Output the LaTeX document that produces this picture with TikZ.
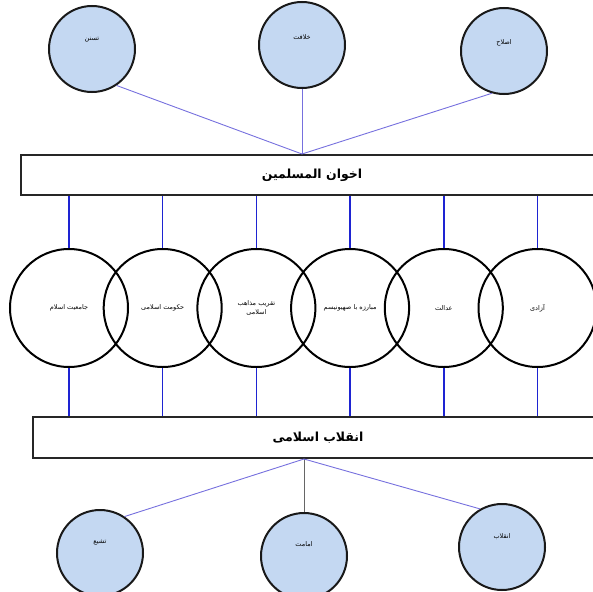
\documentclass[tikz,border=0pt]{standalone}
\usepackage{fontspec}
\usepackage{xcolor}
\usepackage{tikz}
\usetikzlibrary{positioning,calc}
\TeXXeTstate=1
\newfontfamily\arabicfont[Script=Arabic]{DejaVu Sans}
\newcommand{\fa}[1]{\beginR #1\endR}
\definecolor{Sky}{RGB}{196,216,242}
\definecolor{Wire}{RGB}{118,112,222}
\definecolor{Tie}{RGB}{30,36,210}
\tikzset{
  bar/.style={draw=black!85,line width=2pt,fill=white,inner sep=0pt,font=\arabicfont\bfseries\fontsize{12.5}{14}\selectfont},
  topic/.style={circle,draw=black,line width=2pt,minimum size=118pt,inner sep=0pt,align=center,font=\arabicfont\fontsize{6.5}{9}\selectfont},
  branch/.style={circle,draw=black!90,line width=2pt,fill=Sky,minimum size=86pt,inner sep=0pt},
  tag/.style={font=\arabicfont\fontsize{6.5}{8}\selectfont,inner sep=0pt},
  link/.style={draw=Wire,line width=0.9pt},
  tie/.style={draw=Tie,line width=1.5pt},
}

\begin{document}
\begin{tikzpicture}[x=1pt,y=-1pt]
  \useasboundingbox (0,0) rectangle (593,591);

  % --- upper branches ---
  \node[branch, label={[tag,yshift=9pt]center:\fa{تسنن}}] (sunni) at (92,49) {};
  \node[branch, label={[tag,yshift=8pt]center:\fa{خلافت}}] (caliph) at (302,45) {};
  \node[branch, label={[tag,yshift=8pt]center:\fa{اصلاح}}] (reform) at (504,51) {};

  \node[bar, minimum width=582pt, minimum height=40pt] (ikhwan) at (312,175) {\fa{اخوان المسلمین}};
  \coordinate (hubA) at (caliph.south |- ikhwan.north);

  \draw[link] (sunni.-56) -- (hubA);
  \draw[link] (caliph.south) -- (hubA);
  \draw[link] (reform.-106) -- (hubA);

  % --- shared principles ---
  \node[topic] (c1) at (69,308) {\fa{جامعیت اسلام}};
  \node[topic, right=-26.3pt of c1] (c2) {\fa{حکومت اسلامی}};
  \node[topic, right=-26.3pt of c2] (c3) {\fa{تقریب مذاهب}\\\fa{اسلامی}};
  \node[topic, right=-26.3pt of c3] (c4) {\fa{مبارزه با صهیونیسم}};
  \node[topic, right=-26.3pt of c4] (c5) {\fa{عدالت}};
  \node[topic, right=-26.3pt of c5] (c6) {\fa{آزادی}};

  \node[bar, minimum width=570pt, minimum height=41pt] (islrev) at (318,437.5) {\fa{انقلاب اسلامی}};

  \foreach \i in {1,...,6} {
    \draw[tie] (c\i.north) -- (c\i.north |- ikhwan.south);
    \draw[tie] (c\i.south) -- (c\i.south |- islrev.north);
  }

  % --- lower branches ---
  \node[branch, label={[tag,yshift=11pt]center:\fa{تشیع}}] (shia) at (100,553) {};
  \node[branch, label={[tag,yshift=12pt]center:\fa{امامت}}] (imamat) at (304,556) {};
  \node[branch, label={[tag,yshift=10pt]center:\fa{انقلاب}}] (revolt) at (502,547) {};
  \coordinate (hubB) at (imamat.north |- islrev.south);

  \draw[link] (shia.56) -- (hubB);
  \draw[link, draw=black!60] (imamat.north) -- (hubB);
  \draw[link] (revolt.120) -- (hubB);
\end{tikzpicture}
\end{document}
